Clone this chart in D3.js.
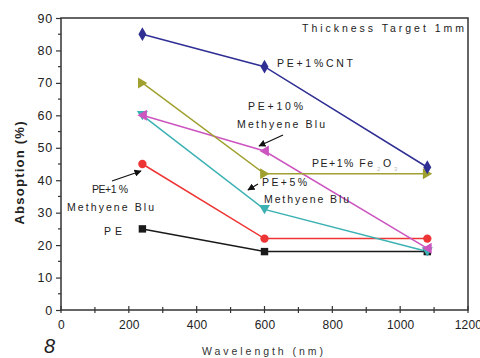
<!DOCTYPE html>
<html>
<head>
<meta charset="utf-8">
<script src="https://cdn.jsdelivr.net/npm/d3@7"></script>
<style>
  body { margin: 0; background: #fff; }
  text { font-family: "Liberation Sans", Arial, sans-serif; fill: #222; }
</style>
</head>
<body>
<svg id="chart" width="480" height="358"></svg>
<script>
"use strict";

// wavelengths (nm)
const wavelengths = [240, 600, 1080];

// absorption (%) for each sample
const cnt = [85, 75, 44];
const fe2o3 = [70, 42, 42];
const mb10 = [60, 49, 19];
const mb5 = [60, 31, 18];
const mb1 = [45, 22, 22];
const pe = [25, 18, 18];

const xTicks = [0, 200, 400, 600, 800, 1000, 1200];
const yTicks = [0, 10, 20, 30, 40, 50, 60, 70, 80, 90];

const series = [
  { name: "PE", values: pe, color: "#1a1a1a", symbol: d3.symbolSquare },
  { name: "PE+1% Methyene Blu", values: mb1, color: "#ee3535", symbol: d3.symbolCircle },
  { name: "PE+5% Methyene Blu", values: mb5, color: "#3cb1b3", symbol: "down" },
  { name: "PE+10% Methyene Blu", values: mb10, color: "#cc55c0", symbol: "left" },
  { name: "PE+1% Fe2O3", values: fe2o3, color: "#a0a030", symbol: "right" },
  { name: "PE+1%CNT", values: cnt, color: "#2f2f94", symbol: d3.symbolDiamond }
];

const svg = d3.select("#chart");
const margin = { left: 61, right: 12, top: 18, bottom: 48 };
const width = 480 - margin.left - margin.right;
const height = 358 - margin.top - margin.bottom;

const x = d3.scaleLinear().domain([0, 1200]).range([0, width]);
const y = d3.scaleLinear().domain([0, 90]).range([height, 0]);

const g = svg.append("g").attr("transform", `translate(${margin.left},${margin.top})`);

// frame
g.append("rect")
  .attr("width", width).attr("height", height)
  .attr("fill", "none").attr("stroke", "#333").attr("stroke-width", 1.5);

// x axis: major ticks labelled, minor ticks in between, pointing up
const xAxis = g.append("g").attr("transform", `translate(0,${height})`);
xAxis.call(d3.axisBottom(x).tickValues(xTicks).tickFormat(d3.format("d")).tickSize(0).tickPadding(10))
  .call(a => a.select(".domain").remove())
  .call(a => a.selectAll("text").attr("font-size", 12).attr("letter-spacing", 0.2).attr("fill", "#333"));
xAxis.selectAll("line.tk")
  .data(d3.range(0, 1201, 100))
  .enter().append("line")
  .attr("x1", d => x(d)).attr("x2", d => x(d))
  .attr("y1", 3).attr("y2", d => d % 200 === 0 ? -4 : -3)
  .attr("stroke", "#333").attr("stroke-width", 1.2);

// y axis: ticks pointing out
const yAxis = g.append("g");
yAxis.call(d3.axisLeft(y).tickValues(yTicks).tickSize(5).tickPadding(3))
  .call(a => a.select(".domain").remove())
  .call(a => a.selectAll("line").attr("stroke", "#333").attr("stroke-width", 1.2))
  .call(a => a.selectAll("text").attr("font-size", 12.5).attr("letter-spacing", 0.8).attr("fill", "#333"));
yAxis.selectAll("line.minor")
  .data(d3.range(5, 90, 10))
  .enter().append("line")
  .attr("x1", -3).attr("x2", 0)
  .attr("y1", d => y(d)).attr("y2", d => y(d))
  .attr("stroke", "#333").attr("stroke-width", 1.2);

// axis titles
svg.append("text")
  .attr("transform", "translate(24,173) rotate(-90)")
  .attr("text-anchor", "middle")
  .attr("font-size", 13).attr("font-weight", "bold")
  .attr("textLength", 103).attr("lengthAdjust", "spacing")
  .text("Absoption (%)");

svg.append("text")
  .attr("x", 202).attr("y", 355)
  .attr("font-size", 10.5).attr("font-family", "DejaVu Sans").style("fill", "#333")
  .attr("textLength", 121).attr("lengthAdjust", "spacing")
  .text("Wavelength (nm)");

svg.append("text")
  .attr("x", 44).attr("y", 353)
  .attr("font-size", 20).attr("font-style", "italic").attr("font-family", "DejaVu Sans")
  .text("8");

// lines
const line = d3.line().x((d, i) => x(wavelengths[i])).y(d => y(d));

g.selectAll("path.series")
  .data(series)
  .enter().append("path")
  .attr("fill", "none")
  .attr("stroke", d => d.color)
  .attr("stroke-width", 1.5)
  .attr("d", d => line(d.values));

// markers
let triangle = (dir, s) => {
  if (dir === "down") return `M${-s},${-s * 0.8}L${s},${-s * 0.8}L0,${s * 0.9}Z`;
  if (dir === "left") return `M${s * 0.8},${-s}L${s * 0.8},${s}L${-s * 0.9},0Z`;
  return `M${-s * 0.8},${-s}L${-s * 0.8},${s}L${s * 0.9},0Z`;
};

series.forEach(s => {
  g.selectAll(null)
    .data(s.values)
    .enter().append("path")
    .attr("transform", (d, i) => `translate(${x(wavelengths[i])},${y(d)})`)
    .attr("d", () => typeof s.symbol === "string" ? triangle(s.symbol, 5.5) : d3.symbol(s.symbol, 55)())
    .attr("fill", s.color);
});

// annotations, stretched to the widths seen in the reference
const ann = svg.append("g").attr("font-size", 10.5).attr("font-family", "DejaVu Sans");
let label = (tx, ty, str, len) => ann.append("text")
  .attr("x", tx).attr("y", ty)
  .attr("font-family", "DejaVu Sans")
  .attr("textLength", len).attr("lengthAdjust", "spacing")
  .text(str);

label(302, 32, "Thickness Target 1mm", 162);
label(277, 67, "PE+1%CNT", 76);
label(248, 110, "PE+10%", 55);
label(237, 128, "Methyene Blu", 88);
label(312, 167, "PE+1% Fe", 61);
label(383, 167, "O", 9);
ann.append("text").attr("x", 377).attr("y", 171).attr("font-size", 6).style("fill", "#bbb").text("2");
ann.append("text").attr("x", 394).attr("y", 171).attr("font-size", 6).style("fill", "#bbb").text("3");
label(262, 186, "PE+5%", 45);
label(264, 203, "Methyene Blu", 85);
label(92, 193, "PE+1 %", 36);
label(67, 211, "Methyene Blu", 87);
label(104, 235, "PE", 18);

// arrows
svg.append("defs").append("marker")
  .attr("id", "ah").attr("viewBox", "0 0 10 10")
  .attr("refX", 9).attr("refY", 5)
  .attr("markerWidth", 6).attr("markerHeight", 6).attr("orient", "auto")
  .append("path").attr("d", "M0,0L10,5L0,10Z").attr("fill", "#111");

const arrows = [[112, 181, 141, 171], [283, 135, 259, 146], [258, 184, 248, 190]];
svg.selectAll("line.arrow")
  .data(arrows)
  .enter().append("line")
  .attr("x1", d => d[0]).attr("y1", d => d[1])
  .attr("x2", d => d[2]).attr("y2", d => d[3])
  .attr("stroke", "#111").attr("stroke-width", 1.2)
  .attr("marker-end", "url(#ah)");
</script>
</body>
</html>
